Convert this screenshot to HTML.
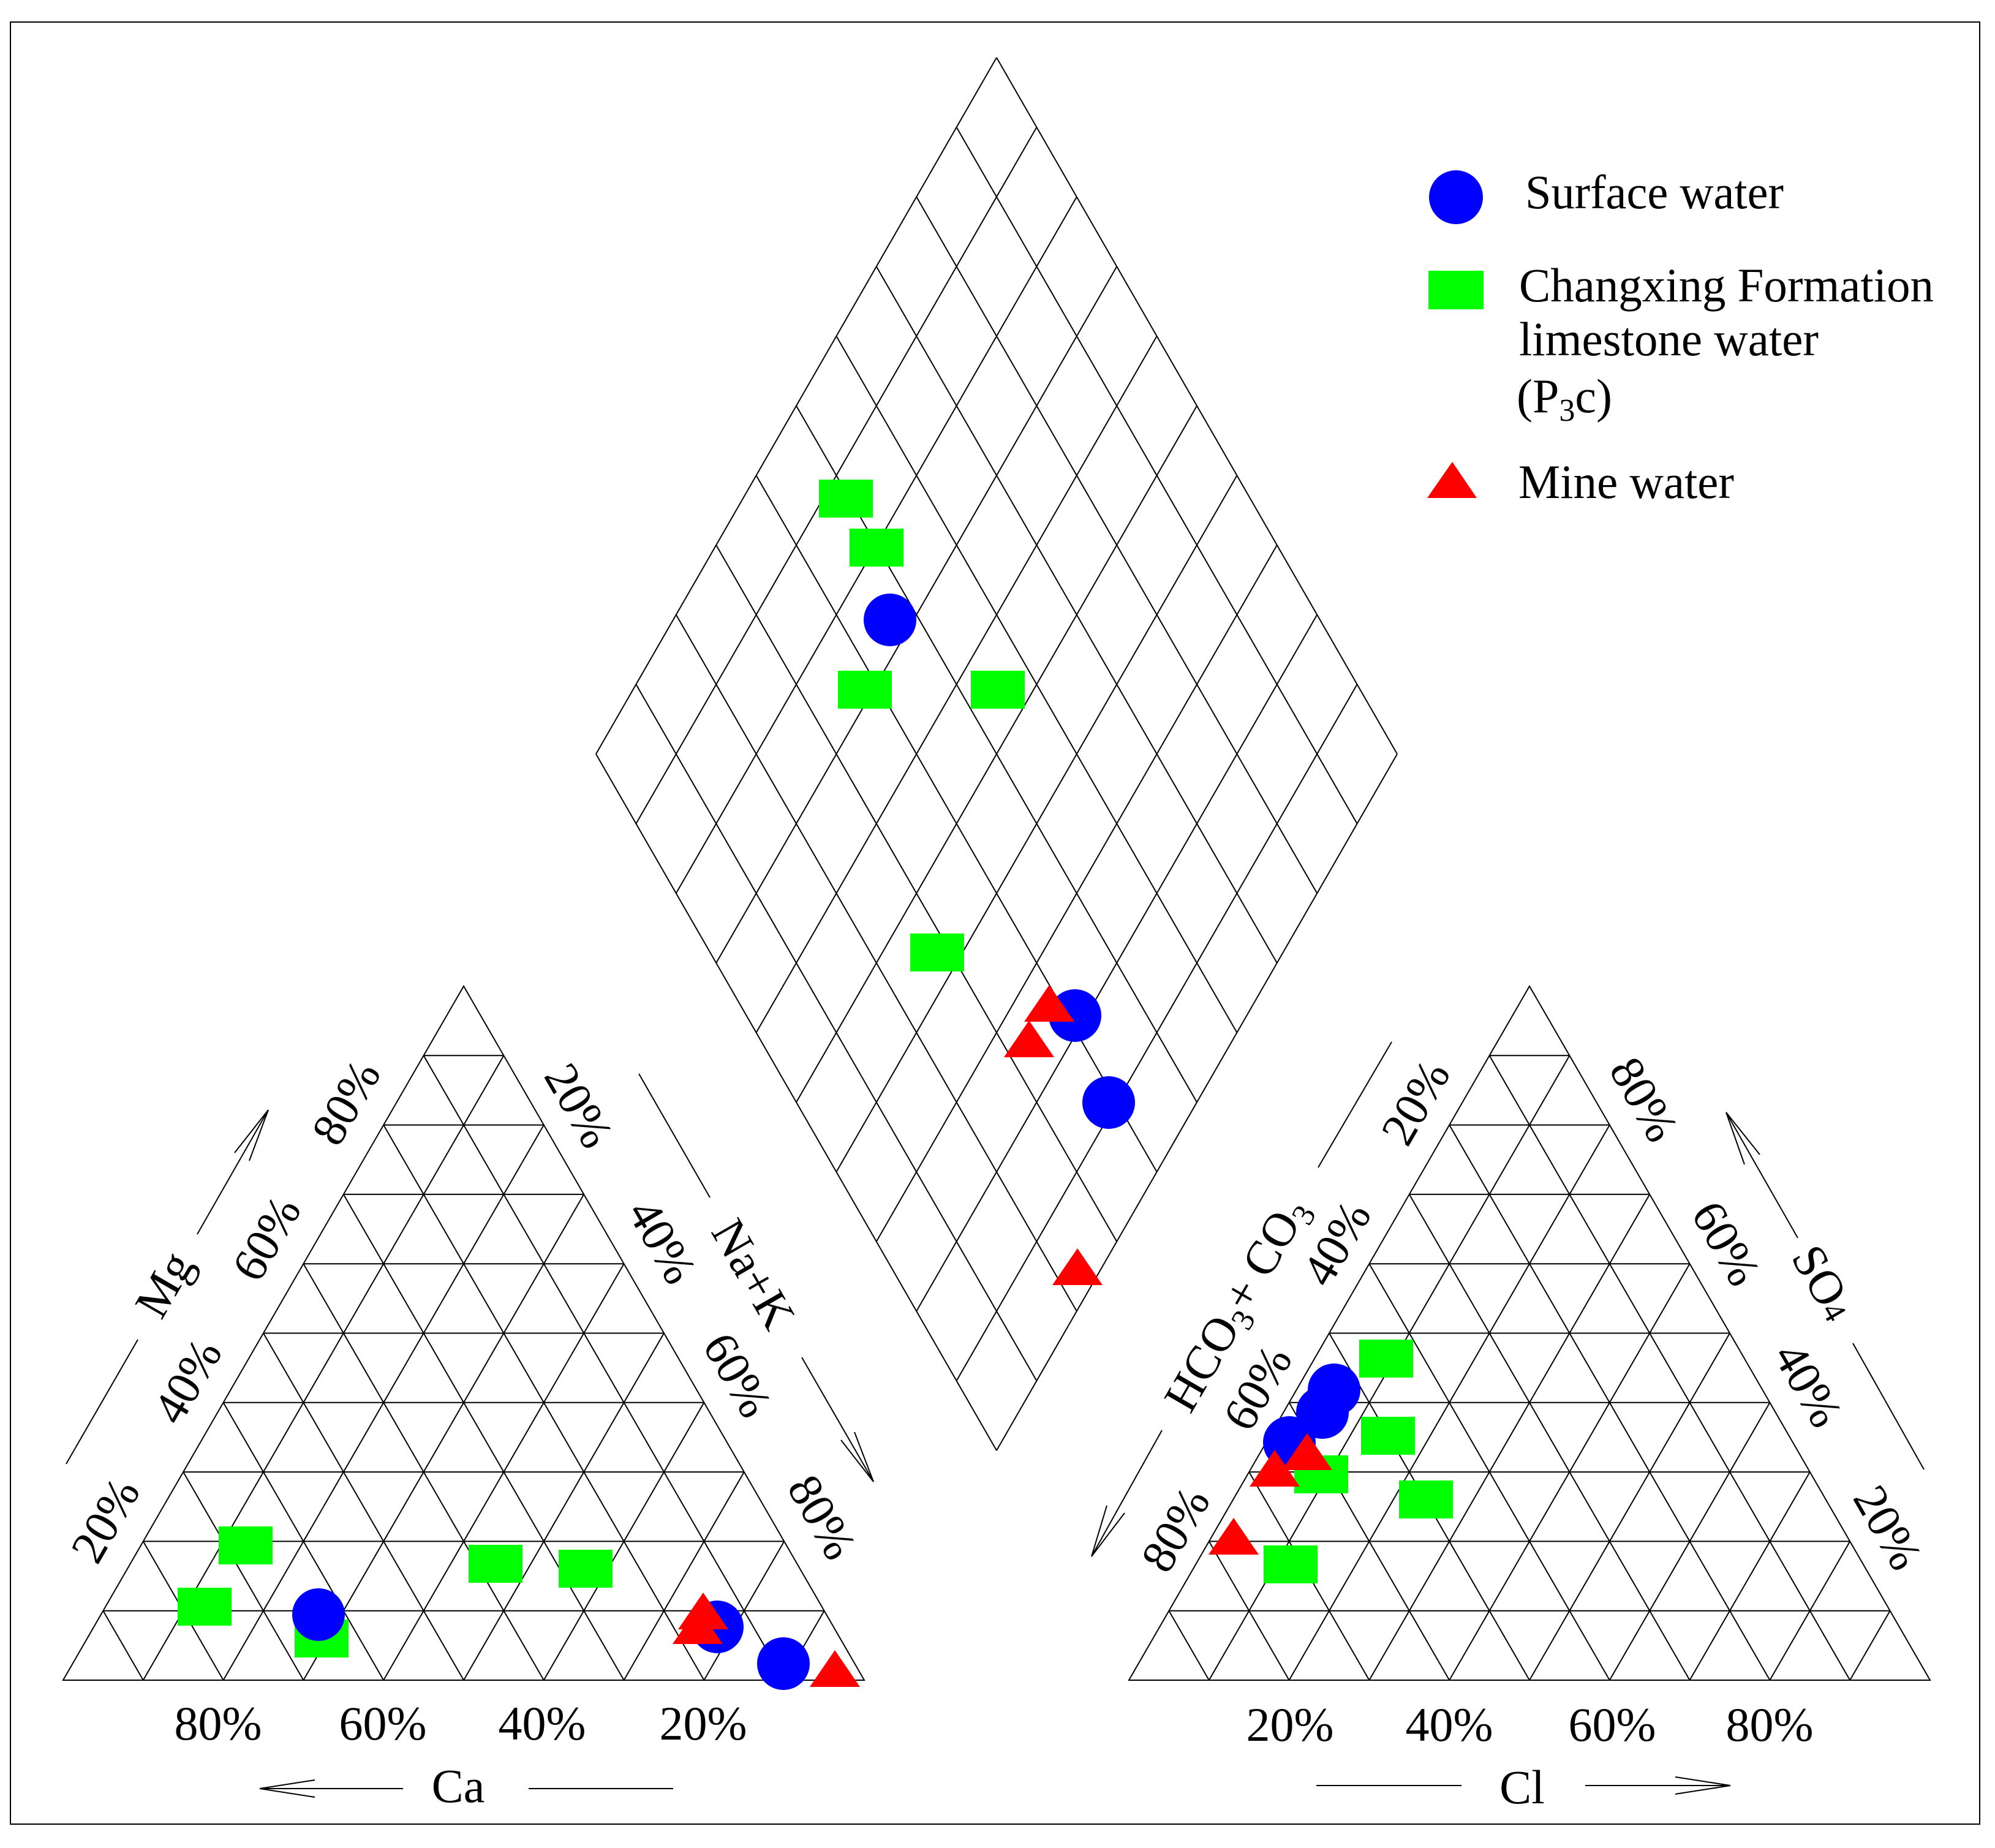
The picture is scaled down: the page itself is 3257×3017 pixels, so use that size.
<!DOCTYPE html>
<html><head><meta charset="utf-8"><style>
html,body{margin:0;padding:0;background:#fff;}
svg{display:block;}
text{font-family:"Liberation Serif","Times New Roman",serif;fill:#000;}
</style></head><body>
<svg width="3257" height="3017" viewBox="0 0 3257 3017" xmlns="http://www.w3.org/2000/svg">
<rect x="0" y="0" width="3257" height="3017" fill="#fff"/>
<rect x="17" y="36" width="3215" height="2942" fill="none" stroke="#000" stroke-width="2"/>

<g transform="matrix(130.8,0,0,-113.3,103,2743)" fill="none" stroke="#000" stroke-width="2">
<path vector-effect="non-scaling-stroke" d="M0,0 L10,0 L5,10 Z
M0.5,1 L9.5,1 M1,2 L9,2 M1.5,3 L8.5,3 M2,4 L8,4 M2.5,5 L7.5,5 M3,6 L7,6 M3.5,7 L6.5,7 M4,8 L6,8 M4.5,9 L5.5,9
M1,0 L5.5,9 M2,0 L6,8 M3,0 L6.5,7 M4,0 L7,6 M5,0 L7.5,5 M6,0 L8,4 M7,0 L8.5,3 M8,0 L9,2 M9,0 L9.5,1
M1,0 L0.5,1 M2,0 L1,2 M3,0 L1.5,3 M4,0 L2,4 M5,0 L2.5,5 M6,0 L3,6 M7,0 L3.5,7 M8,0 L4,8 M9,0 L4.5,9"/>
</g>
<g transform="matrix(130.8,0,0,-113.3,1843,2743)" fill="none" stroke="#000" stroke-width="2">
<path vector-effect="non-scaling-stroke" d="M0,0 L10,0 L5,10 Z
M0.5,1 L9.5,1 M1,2 L9,2 M1.5,3 L8.5,3 M2,4 L8,4 M2.5,5 L7.5,5 M3,6 L7,6 M3.5,7 L6.5,7 M4,8 L6,8 M4.5,9 L5.5,9
M1,0 L5.5,9 M2,0 L6,8 M3,0 L6.5,7 M4,0 L7,6 M5,0 L7.5,5 M6,0 L8,4 M7,0 L8.5,3 M8,0 L9,2 M9,0 L9.5,1
M1,0 L0.5,1 M2,0 L1,2 M3,0 L1.5,3 M4,0 L2,4 M5,0 L2.5,5 M6,0 L3,6 M7,0 L3.5,7 M8,0 L4,8 M9,0 L4.5,9"/>
</g>
<g transform="matrix(65.4,-113.7,65.4,113.7,973,1231)" fill="none" stroke="#000" stroke-width="2">
<path vector-effect="non-scaling-stroke" d="M0,0 L0,10 M1,0 L1,10 M2,0 L2,10 M3,0 L3,10 M4,0 L4,10 M5,0 L5,10 M6,0 L6,10 M7,0 L7,10 M8,0 L8,10 M9,0 L9,10 M10,0 L10,10
M0,0 L10,0 M0,1 L10,1 M0,2 L10,2 M0,3 L10,3 M0,4 L10,4 M0,5 L10,5 M0,6 L10,6 M0,7 L10,7 M0,8 L10,8 M0,9 L10,9 M0,10 L10,10"/>
</g>

<g fill="none" stroke="#000" stroke-width="2">
<line x1="424" y1="2920" x2="658" y2="2920"/><path d="M514,2906 L424,2920 L514,2934"/>
<line x1="863" y1="2920" x2="1099" y2="2920"/>
<line x1="108" y1="2390" x2="225" y2="2187"/>
<line x1="322" y1="2015" x2="438" y2="1812"/><path d="M383,1882 L438,1812 L407,1895"/>
<line x1="1043" y1="1753" x2="1159" y2="1955"/>
<line x1="1309" y1="2216" x2="1426" y2="2419"/><path d="M1373,2351 L1426,2419 L1395,2338"/>
<line x1="2149" y1="2915" x2="2386" y2="2915"/>
<line x1="2588" y1="2915" x2="2825" y2="2915"/><path d="M2735,2901 L2825,2915 L2735,2929"/>
<line x1="2152" y1="1906" x2="2272" y2="1701"/>
<line x1="1897" y1="2335" x2="1782" y2="2541"/><path d="M1836,2470 L1782,2541 L1807,2458"/>
<line x1="2818" y1="1816" x2="2935" y2="2021"/><path d="M2873,1885 L2818,1816 L2848,1901"/>
<line x1="3025" y1="2193" x2="3141" y2="2399"/>
</g>

<g font-size="78" text-anchor="middle">
<text x="356" y="2840">80%</text>
<text x="625" y="2840">60%</text>
<text x="885" y="2840">40%</text>
<text x="1148" y="2840">20%</text>
<text x="748" y="2942">Ca</text>
<text transform="translate(565,1800) rotate(-60)" y="26">80%</text>
<text transform="translate(435,2022) rotate(-60)" y="26">60%</text>
<text transform="translate(306,2255) rotate(-60)" y="26">40%</text>
<text transform="translate(172,2482) rotate(-60)" y="26">20%</text>
<text transform="translate(268,2097) rotate(-60)" y="26">Mg</text>
<text transform="translate(945,1805) rotate(60)" y="26">20%</text>
<text transform="translate(1081,2027) rotate(60)" y="26">40%</text>
<text transform="translate(1204,2245) rotate(60)" y="26">60%</text>
<text transform="translate(1342,2477) rotate(60)" y="26">80%</text>
<text transform="translate(1230,2080) rotate(60)" y="26">Na+K</text>
</g>
<g font-size="78" text-anchor="middle">
<text x="2106" y="2842">20%</text>
<text x="2366" y="2842">40%</text>
<text x="2632" y="2842">60%</text>
<text x="2889" y="2842">80%</text>
<text x="2485" y="2944">Cl</text>
<text transform="translate(2311,1800) rotate(-60)" y="26">20%</text>
<text transform="translate(2182,2030) rotate(-60)" y="26">40%</text>
<text transform="translate(2053,2266) rotate(-60)" y="26">60%</text>
<text transform="translate(1919,2497) rotate(-60)" y="26">80%</text>
<text transform="translate(2018,2129) rotate(-60)" y="26">HCO<tspan font-size="52" dy="14">3</tspan><tspan dy="-14">+ CO</tspan><tspan font-size="52" dy="14">3</tspan></text>
<text transform="translate(2684,1795) rotate(60)" y="26">80%</text>
<text transform="translate(2818,2030) rotate(60)" y="26">60%</text>
<text transform="translate(2952,2261) rotate(60)" y="26">40%</text>
<text transform="translate(3082,2494) rotate(60)" y="26">20%</text>
<text transform="translate(2977,2094) rotate(60)" y="26">SO<tspan font-size="52">4</tspan></text>
</g>

<circle cx="2377" cy="322" r="44" fill="#0000ff"/>
<rect x="2332" y="442" width="90" height="63" fill="#00ff00"/>
<polygon points="2330,813 2411,813 2371,754" fill="#ff0000"/>
<g font-size="78">
<text x="2490" y="340" textLength="422" lengthAdjust="spacingAndGlyphs">Surface water</text>
<text x="2480" y="492" textLength="677" lengthAdjust="spacingAndGlyphs">Changxing Formation</text>
<text x="2480" y="580" textLength="489" lengthAdjust="spacingAndGlyphs">limestone water</text>
<text x="2476" y="673">(P<tspan font-size="52" dy="14">3</tspan><tspan dy="-14">c)</tspan></text>
<text x="2479" y="813" textLength="352" lengthAdjust="spacingAndGlyphs">Mine water</text>
</g>

<g fill="#00ff00">
<rect x="1337" y="783" width="88" height="62"/>
<rect x="1387" y="863" width="88" height="62"/>
<rect x="1368" y="1095" width="88" height="62"/>
<rect x="1585" y="1095" width="88" height="62"/>
<rect x="1486" y="1524" width="88" height="62"/>
</g>
<g fill="#0000ff">
<circle cx="1453" cy="1012" r="43"/>
<circle cx="1755" cy="1658" r="43"/>
<circle cx="1810" cy="1800" r="43"/>
</g>
<g fill="#ff0000">
<polygon points="1672,1668 1754,1668 1713,1608"/>
<polygon points="1639,1726 1721,1726 1680,1666"/>
<polygon points="1718,2098 1800,2098 1759,2038"/>
</g>

<g fill="#00ff00">
<rect x="357" y="2492" width="88" height="62"/>
<rect x="290" y="2592" width="88" height="62"/>
<rect x="481" y="2644" width="88" height="62"/>
<rect x="765" y="2522" width="88" height="62"/>
<rect x="912" y="2530" width="88" height="62"/>
</g>
<g fill="#0000ff">
<circle cx="520" cy="2636" r="43"/>
<circle cx="1171" cy="2656" r="43"/>
<circle cx="1279" cy="2716" r="43"/>
</g>
<g fill="#ff0000">
<polygon points="1107,2660 1189,2660 1148,2600"/>
<polygon points="1098,2684 1180,2684 1139,2624"/>
<polygon points="1322,2754 1404,2754 1363,2694"/>
</g>

<g transform="translate(0,-14)">
<g fill="#00ff00">
<rect x="2219" y="2201" width="88" height="62"/>
<rect x="2222" y="2327" width="88" height="62"/>
<rect x="2113" y="2390" width="88" height="62"/>
<rect x="2284" y="2431" width="88" height="62"/>
<rect x="2063" y="2537" width="88" height="62"/>
</g>
<g fill="#0000ff">
<circle cx="2178" cy="2283" r="43"/>
<circle cx="2159" cy="2320" r="43"/>
<circle cx="2105" cy="2369" r="43"/>
</g>
<g fill="#ff0000">
<polygon points="2093,2414 2175,2414 2134,2354"/>
<polygon points="2040,2441 2122,2441 2081,2381"/>
<polygon points="1973,2552 2055,2552 2014,2492"/>
</g>
</g>
</svg>
</body></html>
